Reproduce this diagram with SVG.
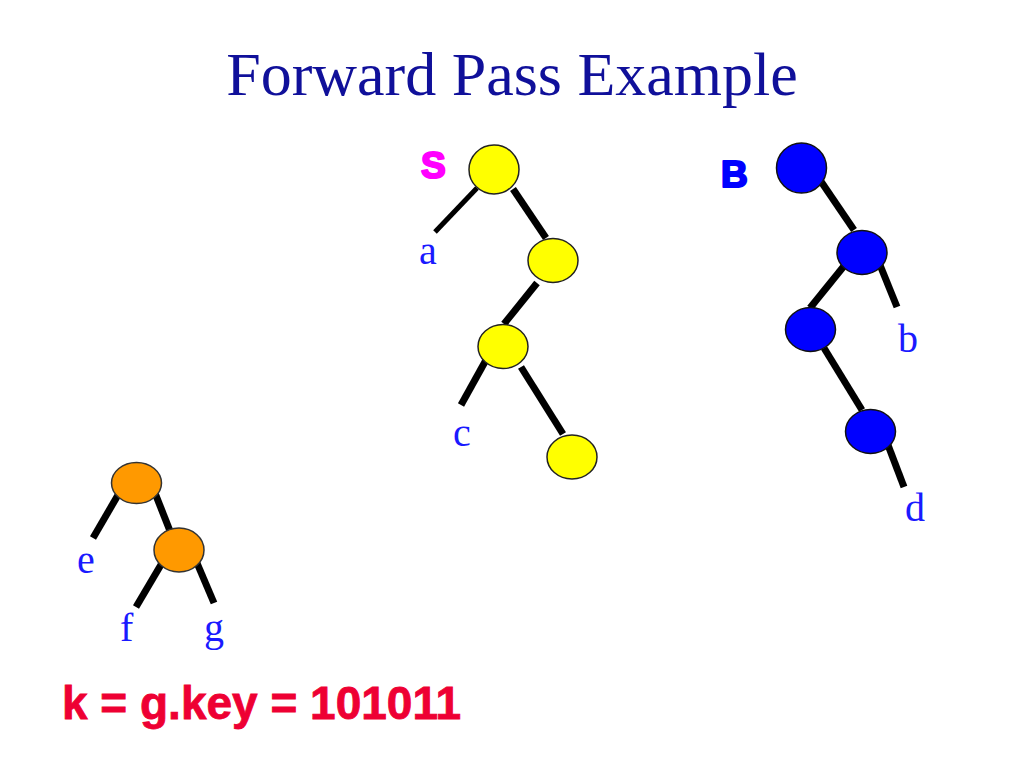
<svg xmlns="http://www.w3.org/2000/svg" width="1024" height="768" viewBox="0 0 1024 768">
<style>
.e{stroke:#000;stroke-width:7;stroke-linecap:butt}
.t{stroke-width:5}
.y{fill:#ffff00;stroke:#222;stroke-width:1.5}
.b{fill:#0000ff;stroke:#111;stroke-width:1.5}
.o{fill:#ff9900;stroke:#333;stroke-width:1.5}
.lbl{font-family:"Liberation Serif","Times New Roman",serif;font-size:40px;fill:#1a1aff}
.title{font-family:"Liberation Serif","Times New Roman",serif;font-size:62px;fill:#10109a}
.hd{font-family:"Liberation Sans",Arial,sans-serif;font-weight:bold;font-size:37px;stroke-width:2.2;stroke-linejoin:round}
</style>
<rect width="1024" height="768" fill="#fff"/>
<text class="title" x="512" y="95" text-anchor="middle">Forward Pass Example</text>
<g id="connectors">
<line class="e t" x1="477" y1="188" x2="435" y2="232"/>
<line class="e" x1="513" y1="189" x2="546" y2="238"/>
<line class="e" x1="537" y1="283" x2="504" y2="324"/>
<line class="e" x1="486" y1="360" x2="461" y2="405"/>
<line class="e" x1="521" y1="367" x2="563" y2="434"/>
<line class="e" x1="820" y1="180" x2="854" y2="230"/>
<line class="e" x1="844" y1="266" x2="810" y2="308"/>
<line class="e" x1="880" y1="265" x2="897" y2="307"/>
<line class="e" x1="824" y1="348" x2="862" y2="410"/>
<line class="e" x1="888" y1="445" x2="904" y2="487"/>
<line class="e" x1="118" y1="495" x2="93" y2="538"/>
<line class="e" x1="155" y1="493" x2="170" y2="531"/>
<line class="e" x1="162" y1="563" x2="136" y2="607"/>
<line class="e" x1="197" y1="563" x2="214" y2="603"/>
</g>
<g id="S-tree">
<text class="hd" x="421" y="178" fill="#ff00ff" stroke="#ff00ff">S</text>
<g id="s1"><ellipse class="y" cx="494" cy="169.5" rx="25" ry="24.5"/></g>
<g id="s2"><ellipse class="y" cx="553" cy="260.5" rx="25" ry="22"/></g>
<g id="s3"><ellipse class="y" cx="503" cy="346.5" rx="25" ry="22"/></g>
<g id="s4"><ellipse class="y" cx="572" cy="457" rx="25" ry="22"/></g>
<text class="lbl" x="419" y="264">a</text>
<text class="lbl" x="453" y="446">c</text>
</g>
<g id="B-tree">
<text class="hd" x="721" y="187" fill="#0000ff" stroke="#0000ff">B</text>
<g id="b1"><ellipse class="b" cx="801.5" cy="168" rx="25" ry="25"/></g>
<g id="b2"><ellipse class="b" cx="862" cy="252.5" rx="25" ry="22"/></g>
<g id="b3"><ellipse class="b" cx="810.5" cy="329.5" rx="25" ry="22"/></g>
<g id="b4"><ellipse class="b" cx="870.5" cy="431.5" rx="25" ry="22"/></g>
<text class="lbl" x="898" y="352">b</text>
<text class="lbl" x="905" y="521">d</text>
</g>
<g id="O-tree">
<g id="o1"><ellipse class="o" cx="136.5" cy="483" rx="25" ry="20.5"/></g>
<g id="o2"><ellipse class="o" cx="179" cy="550" rx="25" ry="22"/></g>
<text class="lbl" x="77" y="573">e</text>
<text class="lbl" x="120" y="641">f</text>
<text class="lbl" x="204" y="641">g</text>
</g>
<text x="62" y="719" font-family="'Liberation Sans',Arial,sans-serif" font-weight="bold" font-size="46" fill="#ee0033" stroke="#ee0033" stroke-width="0.8">k = g.key = 101011</text>
</svg>
